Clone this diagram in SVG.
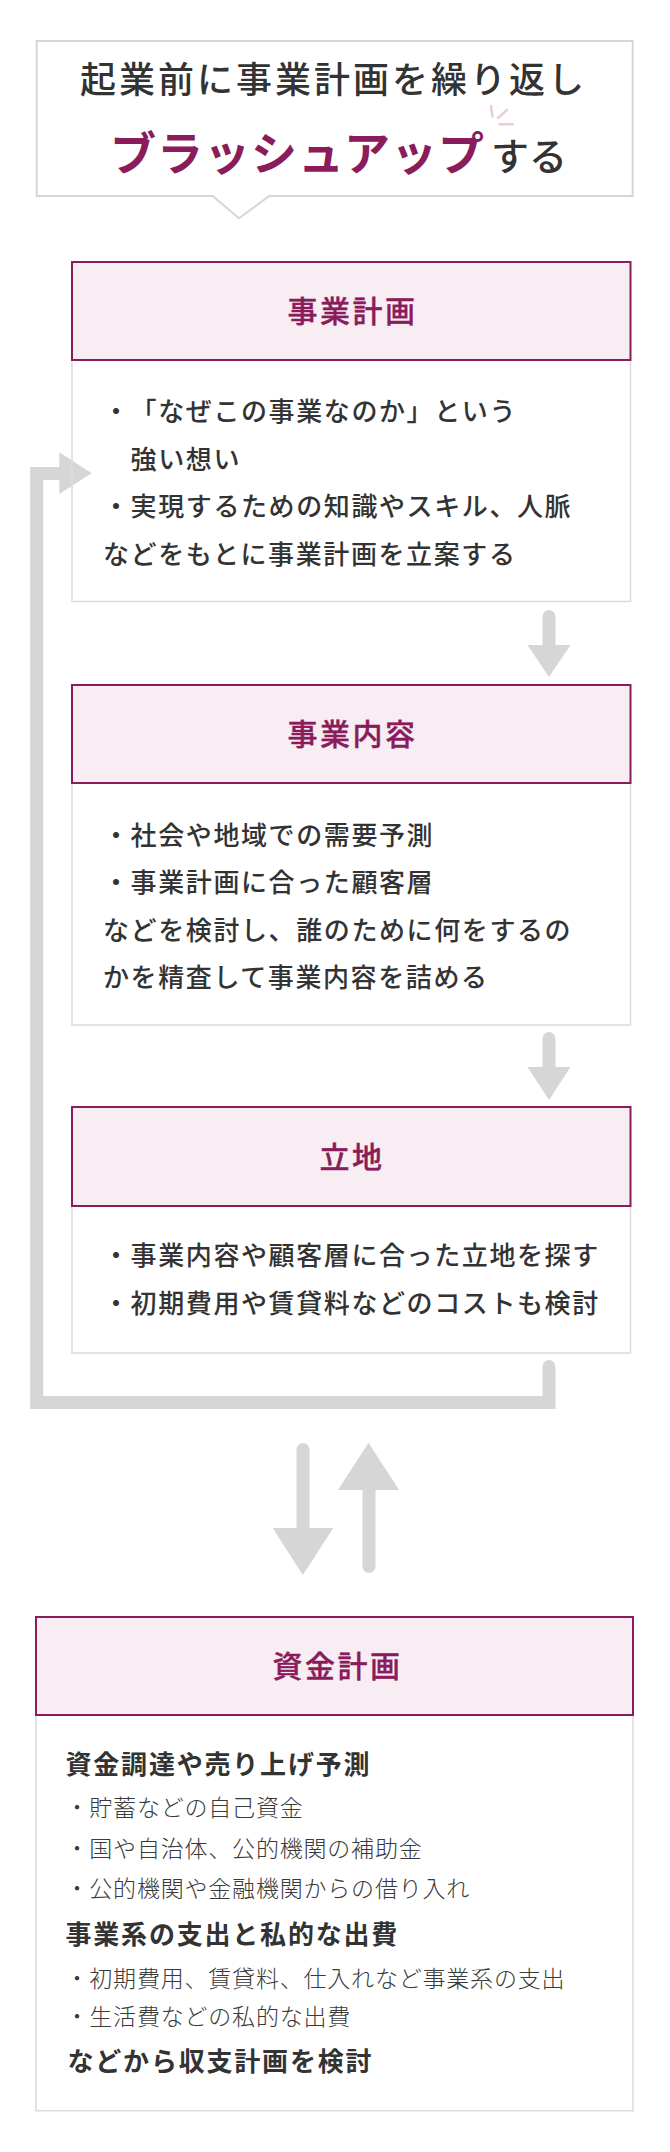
<svg xmlns="http://www.w3.org/2000/svg" width="670" height="2152" viewBox="0 0 670 2152">
<style>
  text { font-family: "Noto Sans CJK JP", "Noto Sans CJK SC", sans-serif; fill: #333333; text-spacing-trim: space-all; }
  .ttl { font-size: 36px; font-weight: 500; letter-spacing: 3px; }
  .kata { font-size: 46px; font-weight: 700; fill: #8a1c5b; letter-spacing: 1px; }
  .suru { font-size: 38px; font-weight: 500; }
  .hd { font-size: 30px; font-weight: 500; fill: #8a1c5b; letter-spacing: 2.5px; stroke: #8a1c5b; stroke-width: 0.35px; }
  .bd { font-size: 26px; font-weight: 500; letter-spacing: 1.6px; }
  .bb { font-size: 26px; font-weight: 700; letter-spacing: 1.8px; }
  .bl { font-size: 23px; font-weight: 300; letter-spacing: 0.8px; fill: #3a3a3a; }
  .head { fill: #f7edf2; stroke: #8a1c5b; stroke-width: 2; }
  .body { fill: none; stroke: #dcdcdc; stroke-width: 1.6; }
  .conn { stroke: #d6d6d6; stroke-width: 13; fill: none; stroke-linecap: round; }
  .ah { fill: #d6d6d6; }
  .spark { stroke: #ebcdda; stroke-width: 2.5; stroke-linecap: round; }
</style>

<g id="connectors">
  <path class="conn" d="M549,1366.5 V1402.5 H36.7 V473.5 H62" stroke-linejoin="miter"/>
  <polygon class="ah" points="59.3,452.3 91.7,473.3 59.3,494"/>
  <line class="conn" x1="549" y1="616.5" x2="549" y2="646"/>
  <polygon class="ah" points="527.5,645 570.5,645 549,677"/>
  <line class="conn" x1="549" y1="1038.5" x2="549" y2="1068"/>
  <polygon class="ah" points="527.5,1067 570.5,1067 549,1100"/>
  <line class="conn" x1="303" y1="1449.5" x2="303" y2="1529"/>
  <polygon class="ah" points="272.7,1528 333.3,1528 302.8,1575"/>
  <line class="conn" x1="369" y1="1489" x2="369" y2="1566.5"/>
  <polygon class="ah" points="368.5,1442.7 338,1490 399,1490"/>
</g>

<g id="title">
  <path d="M36.7,41 H632.7 V196 H269.3 L239,218.3 L212.7,196 H36.7 Z" fill="#ffffff" stroke="#d6d6d6" stroke-width="2"/>
  <text class="ttl" x="80" y="93">起業前に事業計画を繰り返し</text>
  <text y="170"><tspan class="kata" x="110">ブラッシュアップ</tspan><tspan class="suru" x="491">する</tspan></text>
  <line class="spark" x1="491" y1="106" x2="492.5" y2="116.5"/>
  <line class="spark" x1="498" y1="118" x2="507" y2="110"/>
  <line class="spark" x1="499.5" y1="124.3" x2="512.5" y2="124.3"/>
</g>

<g id="node-business-plan">
  <rect class="body" x="72" y="360" width="558.5" height="241.5"/>
  <rect class="head" x="72" y="262" width="558.5" height="98"/>
  <text class="hd" x="287.5" y="322">事業計画</text>
  <text class="bd" y="421"><tspan x="103">・</tspan><tspan x="130.6">「なぜこの事業なのか」という</tspan></text>
  <text class="bd" x="130.6" y="468.5">強い想い</text>
  <text class="bd" x="103" y="516">・実現するための知識やスキル、人脈</text>
  <text class="bd" x="103" y="563.5">などをもとに事業計画を立案する</text>
</g>

<g id="node-business-content">
  <rect class="body" x="72" y="783" width="558.5" height="242"/>
  <rect class="head" x="72" y="685" width="558.5" height="98"/>
  <text class="hd" x="287.5" y="745">事業内容</text>
  <text class="bd" x="103" y="845">・社会や地域での需要予測</text>
  <text class="bd" x="103" y="892">・事業計画に合った顧客層</text>
  <text class="bd" x="103" y="939.5">などを検討し、誰のために何をするの</text>
  <text class="bd" x="103" y="986.5">かを精査して事業内容を詰める</text>
</g>

<g id="node-location">
  <rect class="body" x="72" y="1206" width="558.5" height="147"/>
  <rect class="head" x="72" y="1107" width="558.5" height="99"/>
  <text class="hd" x="319.5" y="1167.5">立地</text>
  <text class="bd" x="103" y="1265">・事業内容や顧客層に合った立地を探す</text>
  <text class="bd" x="103" y="1313">・初期費用や賃貸料などのコストも検討</text>
</g>

<g id="node-funding-plan">
  <rect class="body" x="36" y="1715" width="597" height="395.7"/>
  <rect class="head" x="36" y="1617" width="597" height="98"/>
  <text class="hd" x="272.5" y="1677">資金計画</text>
  <text class="bb" x="65.5" y="1774">資金調達や売り上げ予測</text>
  <text class="bl" x="65.5" y="1816">・貯蓄などの自己資金</text>
  <text class="bl" x="65.5" y="1856.5">・国や自治体、公的機関の補助金</text>
  <text class="bl" x="65.5" y="1896.5">・公的機関や金融機関からの借り入れ</text>
  <text class="bb" x="65.5" y="1943.5">事業系の支出と私的な出費</text>
  <text class="bl" x="65.5" y="1986.5">・初期費用、賃貸料、仕入れなど事業系の支出</text>
  <text class="bl" x="65.5" y="2025">・生活費などの私的な出費</text>
  <text class="bb" x="67.5" y="2071">などから収支計画を検討</text>
</g>
</svg>
